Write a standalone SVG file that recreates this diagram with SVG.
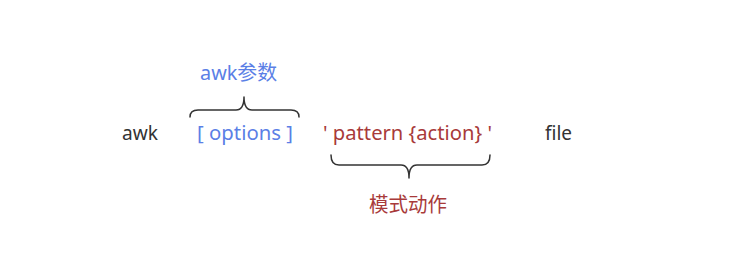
<svg xmlns="http://www.w3.org/2000/svg" width="747" height="258" viewBox="0 0 747 258">
<style>
text{font-family:"Noto Sans","Noto Sans CJK SC",sans-serif;font-size:20px}
.dark{fill:#333333}
.blue{fill:#5B7FE6}
.red{fill:#A83A3A}
.brace{fill:none;stroke:#333333;stroke-width:1.5;stroke-linecap:round;stroke-linejoin:round}
</style>
<rect width="747" height="258" fill="#ffffff"/>
<g id="awk"><text class="dark" x="122" y="140" textLength="36" lengthAdjust="spacingAndGlyphs">awk</text></g>
<g id="options"><text class="blue" x="197" y="140" textLength="96" lengthAdjust="spacingAndGlyphs">[ options ]</text></g>
<g id="pattern"><text class="red" x="323" y="140" textLength="169" lengthAdjust="spacingAndGlyphs">' pattern {action} '</text></g>
<g id="file"><text class="dark" x="545" y="140" textLength="27" lengthAdjust="spacingAndGlyphs">file</text></g>
<g id="label-params"><text class="blue" x="200" y="80" textLength="77" lengthAdjust="spacingAndGlyphs">awk参数</text></g>
<g id="label-pattern"><text class="red" x="369" y="212" textLength="78" lengthAdjust="spacingAndGlyphs">模式动作</text></g>
<g id="connectors">
<path class="brace" d="M190,117 Q190,110 198,110 H236 Q244,110 244,97 Q244,110 252,110 H291 Q299,110 299,117"/>
<path class="brace" d="M331,155 Q331,165 339,165 H401 Q409,165 409,178 Q409,165 417,165 H482 Q490,165 490,155"/>
</g>
</svg>
